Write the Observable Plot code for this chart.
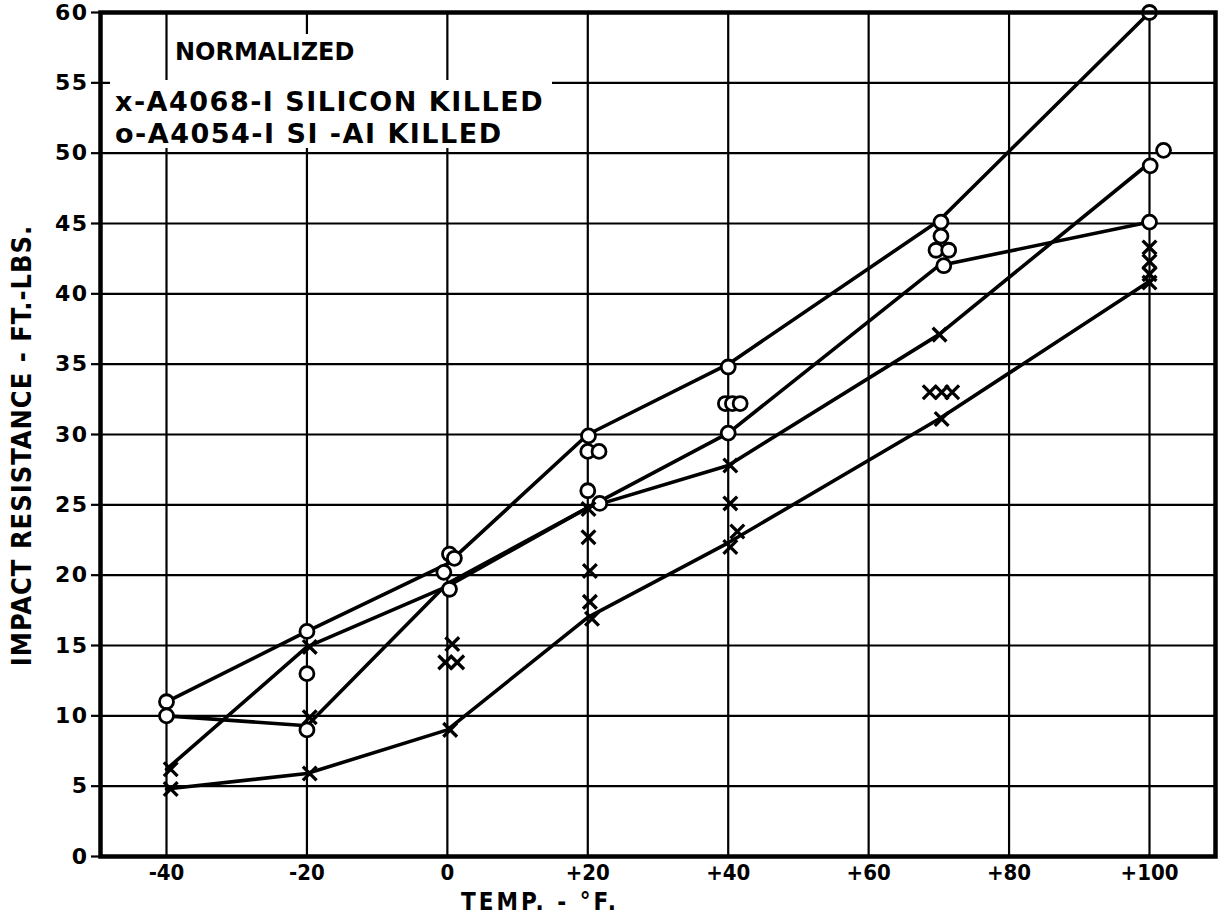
<!DOCTYPE html>
<html><head><meta charset="utf-8">
<script src="https://cdn.jsdelivr.net/npm/d3@7"></script>
<script src="https://cdn.jsdelivr.net/npm/@observablehq/plot@0.6"></script>
<style>
body{margin:0;background:#fff;}
#wrap{position:relative;width:1222px;height:924px;overflow:hidden;}
.leg{position:absolute;background:#fff;font-family:"DejaVu Sans",sans-serif;font-weight:bold;color:#000;white-space:nowrap;line-height:1;box-sizing:border-box;}
</style></head><body><div id="wrap"></div>
<script>
// ---- axis ticks ----
const xTicks = [-40, -20, 0, 20, 40, 60, 80, 100];
const xTickLabels = ["-40", "-20", "0", "+20", "+40", "+60", "+80", "+100"];
const yTicks = [0, 5, 10, 15, 20, 25, 30, 35, 40, 45, 50, 55, 60];

// ---- x : A4068-1 silicon killed (temperature, impact ft-lbs) ----
const siTemp   = [-39.4, -39.4, -19.6, -19.6, -19.6, 0.7, -0.3, 1.4, 0.4, 20.1, 20.1, 20.3, 20.3, 20.6, 40.3, 40.3, 41.3, 40.3, 70.1, 68.7, 70.4, 71.9, 70.4, 100, 100, 100, 100];
const siImpact = [6.2, 4.8, 14.9, 9.9, 5.9, 15.1, 13.8, 13.8, 9.0, 24.7, 22.7, 20.3, 18.1, 16.9, 27.8, 25.1, 23.1, 22.0, 37.1, 33.0, 33.0, 33.0, 31.1, 43.3, 42.3, 41.4, 40.8];

// ---- o : A4054-1 Si-Al killed ----
const alTemp   = [-40, -40, -20, -20, -20, 0.3, 1.0, -0.5, 0.3, 20.1, 20.0, 21.6, 20.0, 21.7, 40.0, 39.6, 40.6, 41.7, 40.0, 70.3, 70.3, 69.6, 71.4, 70.7, 100, 102, 100.1, 100];
const alImpact = [11.0, 10.0, 16.0, 13.0, 9.0, 21.5, 21.2, 20.2, 19.0, 29.9, 28.8, 28.8, 26.0, 25.1, 34.8, 32.2, 32.2, 32.2, 30.1, 45.1, 44.1, 43.1, 43.1, 42.0, 60.0, 50.2, 49.1, 45.1];

// ---- faired curves ----
const curveTemps = [-40, -20, 0, 20, 40, 70, 100];
const curveA = [11, 16, 20.8, 30, 35, 45.2, 60];
const curveB = [10, 9.3, 19.4, 24.8, 30.1, 42, 45.1];
const curveC = [6.2, 14.9, 19.2, 24.8, 27.8, 37.1, 49.3];
const curveD = [4.8, 5.9, 9, 17, 22.3, 31.1, 40.9];

const yTitle = "IMPACT RESISTANCE - FT.-LBS.";
const xTitle = "TEMP. - °F.";

const siPts = siTemp.map((t, i) => ({t, v: siImpact[i]}));
const alPts = alTemp.map((t, i) => ({t, v: alImpact[i]}));
const curves = [["A", curveA], ["B", curveB], ["C", curveC], ["D", curveD]]
  .flatMap(([id, vals]) => vals.map((v, i) => ({id, t: curveTemps[i], v})));

const condensed = "'DejaVu Sans Condensed', 'DejaVu Sans', sans-serif";

const chart = Plot.plot({
  width: 1222,
  height: 924,
  marginLeft: 100,
  marginRight: 7,
  marginTop: 12,
  marginBottom: 68,
  x: {domain: [-49.4, 109.4], axis: null},
  y: {domain: [0, 60], axis: null},
  style: {background: "#fff", color: "#000"},
  marks: [
    Plot.ruleX(xTicks, {stroke: "#000", strokeWidth: 2.2}),
    Plot.ruleY(yTicks.filter(d => d > 0 && d < 60), {stroke: "#000", strokeWidth: 2.2}),
    Plot.line(curves, {x: "t", y: "v", z: "id", stroke: "#000", strokeWidth: 3.6}),
    Plot.dot(alPts, {x: "t", y: "v", symbol: "circle", r: 7, fill: "#fff", stroke: "#000", strokeWidth: 2.8}),
    Plot.dot(siPts, {x: "t", y: "v", symbol: "times", r: 6.3, stroke: "#000", strokeWidth: 3.3}),
    Plot.frame({stroke: "#000", strokeWidth: 4.5}),
    Plot.axisX({ticks: xTicks, tickFormat: d => xTickLabels[xTicks.indexOf(d)], tickSize: 0, tickPadding: 8,
      label: null, fontSize: 22, fontWeight: "bold", fontFamily: condensed}),
    Plot.axisY({ticks: yTicks, tickFormat: d => String(d), tickSize: 9, tickPadding: 3, strokeWidth: 2.2,
      label: null, fontSize: 22, fontWeight: "bold", fontFamily: "'DejaVu Sans', sans-serif"}),
    Plot.text([yTitle], {frameAnchor: "left", textAnchor: "middle", dx: -78, dy: 11, rotate: -90,
      fontSize: 27, fontWeight: "bold", fontFamily: condensed, fill: "#000"}),
    Plot.text([xTitle], {frameAnchor: "bottom", textAnchor: "middle", dx: -118, dy: 53,
      fontSize: 24, fontWeight: "bold", fontFamily: condensed, fill: "#000"})
  ]
});

// letter spacing for the hand-lettered look
d3.select(chart).selectAll("text").each(function() {
  const t = this.textContent;
  if (t === yTitle) this.style.letterSpacing = "1px";
  if (t === xTitle) this.style.letterSpacing = "3px";
  if (/^\d+$/.test(t) && this.closest("g[aria-label='y-axis tick label']")) this.style.letterSpacing = "1.5px";
});

const wrap = document.getElementById("wrap");
wrap.appendChild(chart);

const legNorm = document.createElement("div");
legNorm.className = "leg";
legNorm.style.cssText = "left:170px;top:34px;width:192px;height:46px;font-size:24px;padding:6px 0 0 5px;";
legNorm.textContent = "NORMALIZED";
wrap.appendChild(legNorm);

const legItems = document.createElement("div");
legItems.className = "leg";
legItems.style.cssText = "left:110px;top:80px;width:442px;height:68px;font-size:27px;letter-spacing:1.5px;padding:8px 0 0 5px;";
legItems.innerHTML = "<div>x-A4068-I SILICON KILLED</div><div style='margin-top:5px'>o-A4054-I SI -AI KILLED</div>";
wrap.appendChild(legItems);
</script>
</body></html>
